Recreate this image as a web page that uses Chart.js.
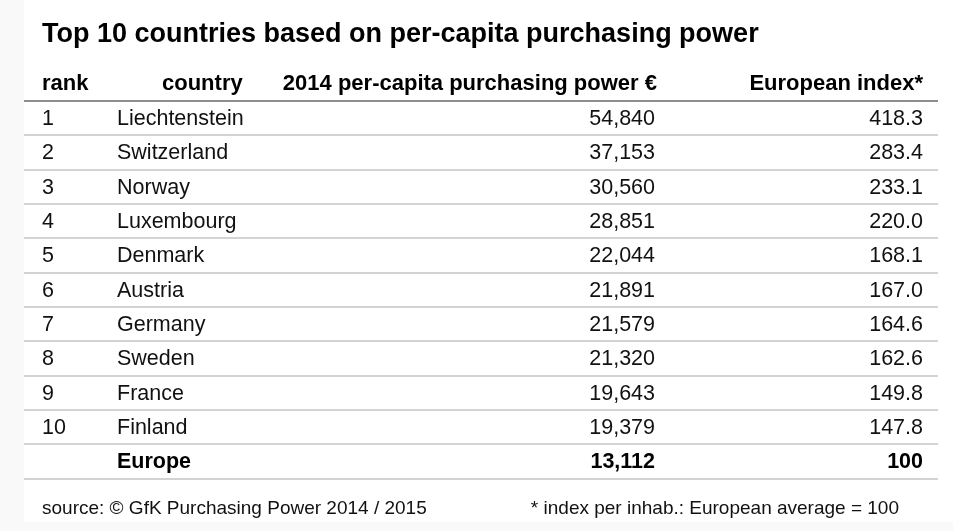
<!DOCTYPE html>
<html>
<head>
<meta charset="utf-8">
<script src="https://cdn.jsdelivr.net/npm/chart.js@4.4.1/dist/chart.umd.min.js"></script>
<style>
  html, body { margin: 0; padding: 0; background: #f9f9f9; }
  canvas { display: block; }
</style>
</head>
<body>
<canvas id="myChart" width="953" height="531"></canvas>
<script>
// table data
var title = "Top 10 countries based on per-capita purchasing power";
var headers = ["rank", "country", "2014 per-capita purchasing power \u20ac", "European index*"];
var ranks = ["1", "2", "3", "4", "5", "6", "7", "8", "9", "10", ""];
var countries = ["Liechtenstein", "Switzerland", "Norway", "Luxembourg", "Denmark", "Austria",
                 "Germany", "Sweden", "France", "Finland", "Europe"];
var purchasingPower = [54840, 37153, 30560, 28851, 22044, 21891, 21579, 21320, 19643, 19379, 13112];
var europeanIndex = ["418.3", "283.4", "233.1", "220.0", "168.1", "167.0", "164.6", "162.6", "149.8", "147.8", "100"];
var sourceNote = "source: \u00a9 GfK Purchasing Power 2014 / 2015";
var indexNote = "* index per inhab.: European average = 100";

// row keys for the category axis: header row + one per table row
var rowKeys = ["header"].concat(countries);

// column anchors on the x scale (scale runs 24..938)
var columns = [
    { x: 42, align: "left" },
    { x: 117, align: "left", headerX: 162 },
    { x: 655, align: "right", headerX: 657 },
    { x: 923, align: "right" }
];

function fmt(n) {
    return n.toLocaleString("en-US");
}

var tablePlugin = {
    id: "tableText",
    beforeDraw: function (chart) {
        var ctx = chart.ctx;
        ctx.save();
        ctx.fillStyle = "#ffffff";
        ctx.fillRect(24, 0, chart.width - 24, 522);
        ctx.restore();
    },
    afterDraw: function (chart) {
        var ctx = chart.ctx;
        var xs = chart.scales.x;
        var ys = chart.scales.y;
        var area = chart.chartArea;
        ctx.save();
        ctx.textBaseline = "middle";
        ctx.fillStyle = "#000";

        // title
        ctx.font = "bold 27px Arial, 'Liberation Sans', sans-serif";
        ctx.textAlign = "left";
        ctx.fillText(title, xs.getPixelForValue(42), 35);

        // header row
        ctx.font = "bold 22px Arial, 'Liberation Sans', sans-serif";
        var hy = ys.getPixelForValue(0);
        headers.forEach(function (h, c) {
            var col = columns[c];
            ctx.textAlign = col.align;
            ctx.fillText(h, xs.getPixelForValue(col.headerX || col.x), hy);
        });

        // body rows
        countries.forEach(function (name, i) {
            var y = ys.getPixelForValue(i + 1) + 1;
            var bold = name === "Europe";
            ctx.font = (bold ? "bold " : "") + "21.5px Arial, 'Liberation Sans', sans-serif";
            ctx.fillStyle = bold ? "#000" : "#111";
            var cells = [ranks[i], name, fmt(purchasingPower[i]), europeanIndex[i]];
            cells.forEach(function (t, c) {
                ctx.textAlign = columns[c].align;
                ctx.fillText(t, xs.getPixelForValue(columns[c].x), y);
            });
        });

        // footer notes
        ctx.font = "19px Arial, 'Liberation Sans', sans-serif";
        ctx.fillStyle = "#111";
        ctx.textAlign = "left";
        ctx.fillText(sourceNote, xs.getPixelForValue(42), area.bottom + 30);
        ctx.textAlign = "right";
        ctx.fillText(indexNote, xs.getPixelForValue(899), area.bottom + 30);
        ctx.restore();
    }
};

var ctx = document.getElementById("myChart").getContext("2d");
var myChart = new Chart(ctx, {
    type: "scatter",
    data: {
        labels: rowKeys,
        datasets: [{
            data: countries.map(function (c, i) { return { x: 655, y: c }; }),
            pointRadius: 0,
            pointHoverRadius: 0
        }]
    },
    options: {
        responsive: false,
        animation: false,
        devicePixelRatio: 1,
        events: [],
        layout: {
            padding: { left: 24, right: 15, top: 66.7, bottom: 52.3 }
        },
        plugins: {
            legend: { display: false },
            title: { display: false },
            tooltip: { enabled: false }
        },
        scales: {
            x: {
                type: "linear",
                display: false,
                min: 24,
                max: 938
            },
            y: {
                type: "category",
                labels: rowKeys,
                offset: true,
                border: { display: false },
                ticks: { display: false },
                grid: {
                    offset: true,
                    drawTicks: false,
                    tickLength: 0,
                    lineWidth: 2,
                    color: function (c) {
                        if (c.index === 0) return "rgba(0,0,0,0)";
                        if (c.index === 1) return "#8e8e8e";
                        return "#d3d3d3";
                    }
                }
            }
        }
    },
    plugins: [tablePlugin]
});
</script>
</body>
</html>
